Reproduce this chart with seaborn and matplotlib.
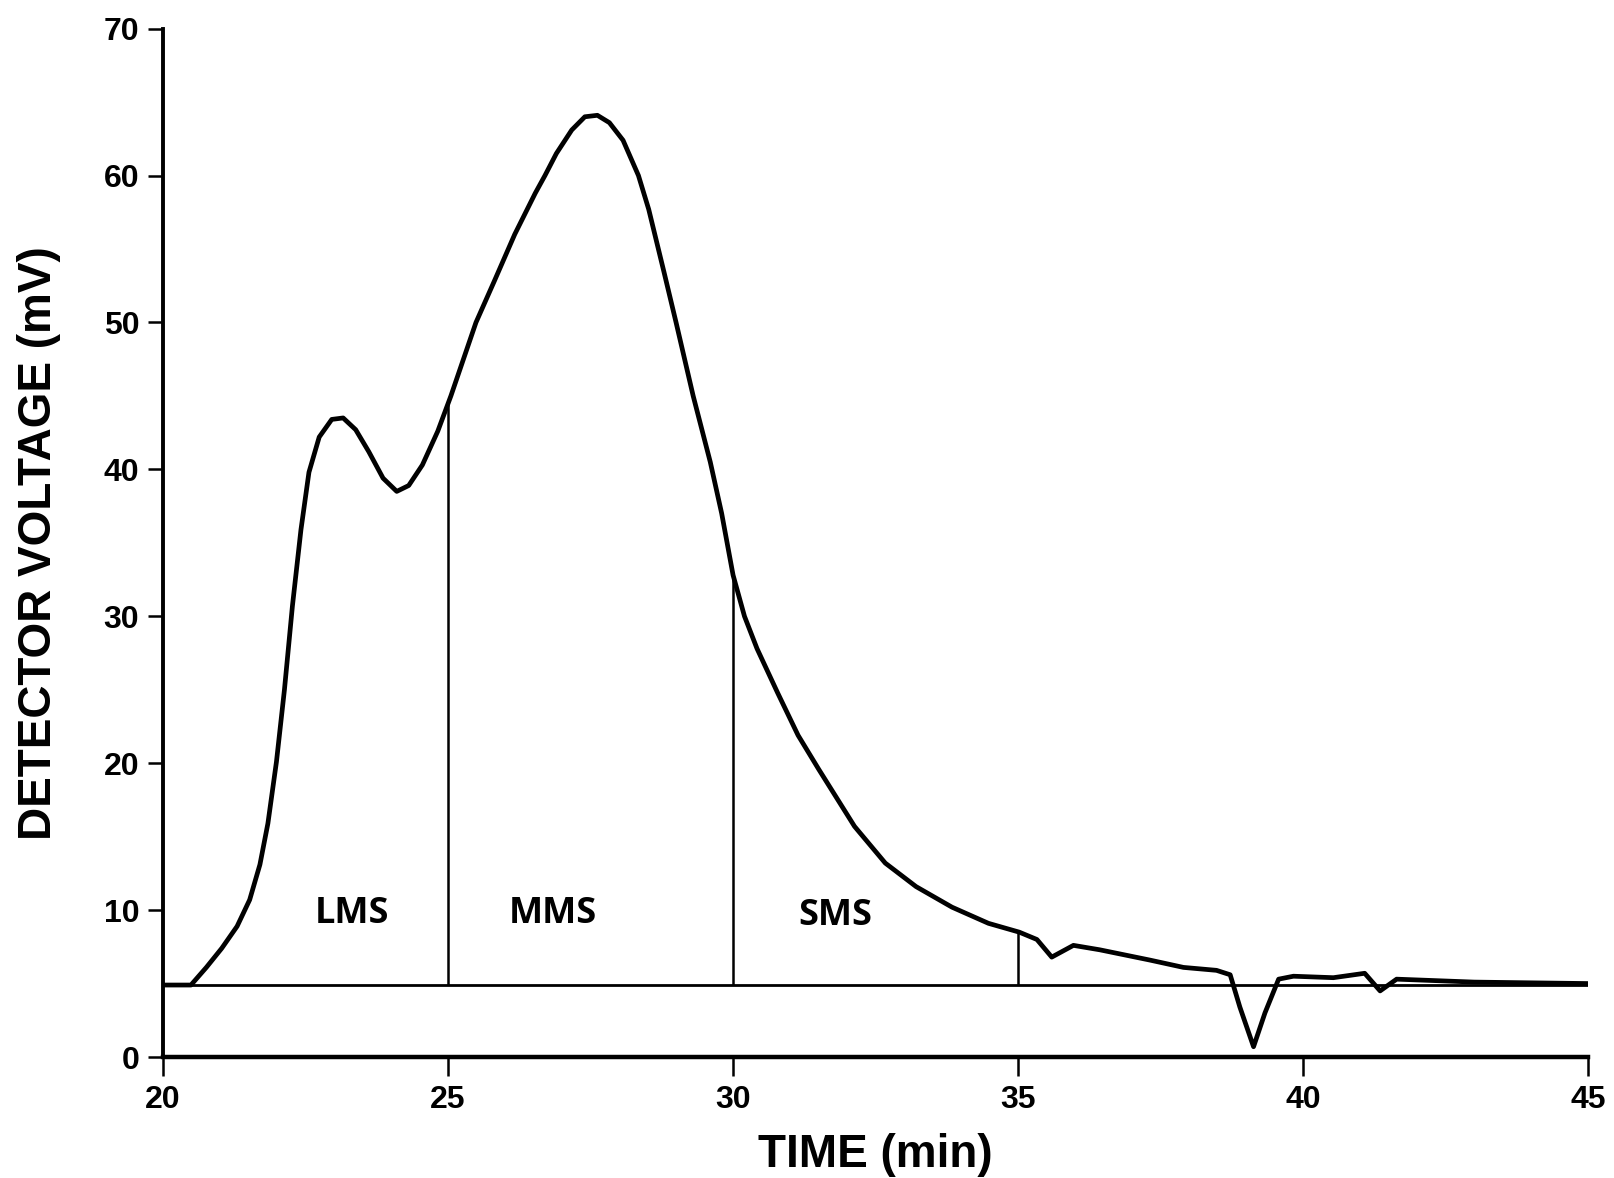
import numpy as np
import pandas as pd
import seaborn as sns
import matplotlib.pyplot as plt

# chromatogram trace
time_min = [20.0, 20.49, 20.76, 21.03, 21.3, 21.52, 21.7, 21.84, 21.99, 22.13,
            22.27, 22.42, 22.56, 22.74, 22.96, 23.16, 23.38, 23.61, 23.86, 24.1,
            24.31, 24.55, 24.82, 25.05, 25.49, 25.81, 26.17, 26.53, 26.7, 26.9,
            27.17, 27.4, 27.62, 27.83, 28.07, 28.34, 28.52, 28.79, 29.0, 29.3,
            29.6, 29.8, 30.0, 30.2, 30.42, 30.78, 31.14, 31.5, 32.13, 32.67,
            33.21, 33.84, 34.48, 35.02, 35.33, 35.59, 35.97, 36.43, 37.31, 37.9,
            38.48, 38.72, 38.89, 39.13, 39.33, 39.57, 39.83, 40.53, 41.08, 41.35,
            41.64, 43.0, 45.0]
voltage_mv = [4.9, 4.9, 6.1, 7.4, 8.9, 10.7, 13.1, 15.9, 20.1, 25.0,
              30.7, 35.9, 39.8, 42.2, 43.4, 43.5, 42.7, 41.2, 39.4, 38.5,
              38.9, 40.3, 42.6, 45.0, 50.0, 52.8, 56.0, 58.8, 60.0, 61.5,
              63.1, 64.0, 64.1, 63.6, 62.4, 60.0, 57.7, 53.4, 50.0, 45.0,
              40.5, 37.0, 32.8, 30.0, 27.8, 24.8, 21.9, 19.6, 15.7, 13.2,
              11.6, 10.2, 9.1, 8.5, 8.0, 6.8, 7.6, 7.3, 6.6, 6.1,
              5.9, 5.6, 3.4, 0.7, 3.0, 5.3, 5.5, 5.4, 5.7, 4.5,
              5.3, 5.1, 5.0]

baseline_mv = 4.9
cut_times = [25, 30, 35]
fraction_names = ['LMS', 'MMS', 'SMS']
fraction_x = [23.32, 26.84, 31.79]
fraction_y = [9.75, 9.75, 9.6]

df = pd.DataFrame({'time': time_min, 'voltage': voltage_mv})

sns.set_style('ticks')
plt.rcParams['font.family'] = ['Liberation Sans', 'DejaVu Sans']
plt.rcParams['text.color'] = 'black'
plt.rcParams['axes.labelcolor'] = 'black'

fig = plt.figure(figsize=(16.14, 11.78), dpi=100)
ax = fig.add_axes([0.101, 0.1027, 0.883, 0.873])

sns.lineplot(data=df, x='time', y='voltage', color='black', linewidth=3.4, ax=ax)
ax.get_lines()[0].set_solid_joinstyle('round')
ax.axhline(baseline_mv, color='black', linewidth=2.0)

# fraction cut lines from baseline up to the trace
cut_tops = np.interp(cut_times, time_min, voltage_mv)
ax.vlines(cut_times, baseline_mv, cut_tops, color='black', linewidth=1.8)

for name, x, y in zip(fraction_names, fraction_x, fraction_y):
    ax.text(x, y, name, fontsize=26, fontweight='bold', ha='center',
            va='center', color='black', family=['Open Sans', 'DejaVu Sans'])

ax.set_xlim(20, 45)
ax.set_ylim(0, 70)
ax.set_xticks(np.arange(20, 46, 5))
ax.set_yticks(np.arange(0, 71, 10))
ax.tick_params(axis='both', labelsize=23, width=1.8, colors='black')
ax.tick_params(axis='y', length=11, pad=6)
ax.tick_params(axis='x', length=14, pad=6)
for lab in ax.get_xticklabels() + ax.get_yticklabels():
    lab.set_fontweight('bold')

ax.set_xlabel('TIME (min)', fontsize=33, fontweight='bold', va='center', color='black')
ax.set_ylabel('DETECTOR VOLTAGE (mV)', fontsize=33, fontweight='bold', va='center', color='black')
ax.xaxis.set_label_coords(0.5, -0.095)
ax.yaxis.set_label_coords(-0.087, 0.5)

sns.despine(ax=ax)
ax.spines['left'].set_linewidth(2.8)
ax.spines['bottom'].set_linewidth(3.2)
ax.spines['left'].set_color('black')
ax.spines['bottom'].set_color('black')

fig.savefig('out.png', dpi=100)
